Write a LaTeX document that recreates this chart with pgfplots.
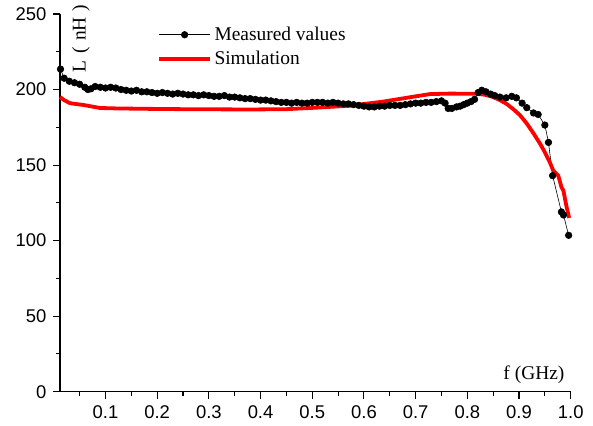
\documentclass[border=0pt]{standalone}
\usepackage{fontspec}
\setmainfont{Liberation Serif}
\newfontfamily\arialfont{Liberation Sans}
\usepackage{pgfplots}
\pgfplotsset{compat=1.18}
\begin{document}
\begin{tikzpicture}
\begin{axis}[
  scale only axis,
  width=510.7bp, height=377.7bp,
  xmin=0.012, xmax=1.0, ymin=0, ymax=250,
  axis x line*=bottom, axis y line*=left,
  axis line style={line width=1.3bp},
  xtick={0.1,0.2,...,1.0},
  xticklabels={0.1,0.2,0.3,0.4,0.5,0.6,0.7,0.8,0.9,1.0},
  minor xtick={0.05,0.15,...,0.95},
  ytick={0,50,...,250},
  minor ytick={25,75,...,225},
  tick align=outside,
  major tick length=7bp, minor tick length=4bp,
  tick style={line width=1.1bp, black},
  /pgf/number format/assume math mode=true,
  ticklabel style={font=\arialfont\fontsize{18.5}{21}\selectfont},
  xticklabel style={yshift=-3.5bp},
  yticklabel style={xshift=-3bp},
  xlabel={f (GHz)},
  xlabel style={at={(axis description cs:0.928,0.044)}, anchor=center, font=\fontsize{19.5}{22}\selectfont},
  ylabel={L\hspace{7bp}(\hspace{6bp}nH\hspace{6bp})},
  ylabel style={at={(axis description cs:0.041,0.935)}, anchor=center, font=\fontsize{19.5}{22}\selectfont},
  legend style={at={(axis description cs:0.19,0.972)}, anchor=north west, draw=none, fill=none,
    font=\fontsize{19.5}{22}\selectfont, row sep=4bp, inner sep=0pt,
    nodes={inner sep=2.5bp}},
  legend cell align=left,
  legend image code/.code={\draw[mark repeat=2,mark phase=2,#1] plot coordinates {(0bp,0bp) (25.5bp,0bp) (51bp,0bp)};},
  clip=false,
]
\addplot[black, line width=0.6bp, mark=*, mark size=3.3bp, mark options={solid, fill=black}] coordinates {
(0.013,213.5)(0.020,207.5)(0.030,205.5)(0.040,204.5)(0.050,203.5)(0.060,201.5)(0.066,200)(0.072,200.5)
(0.080,202)(0.090,201.5)(0.100,201)(0.110,201.5)(0.120,201)(0.130,200)(0.140,199.5)(0.150,199)
(0.160,199.5)(0.170,198.5)(0.180,198.5)(0.190,198)(0.200,197.5)(0.210,198)(0.220,197.5)(0.230,197)
(0.240,197.5)(0.250,197)(0.260,196.5)(0.270,196.5)(0.280,196)(0.290,196.5)(0.300,196)(0.310,195.5)
(0.320,195.5)(0.330,196)(0.340,195)(0.350,195)(0.360,194.5)(0.370,194)(0.380,194)(0.390,193.5)
(0.400,193)(0.410,193)(0.420,192.5)(0.430,192)(0.440,191.5)(0.450,191.5)(0.460,191)(0.470,191.5)
(0.480,191)(0.490,191)(0.500,191.5)(0.510,191.5)(0.520,191.5)(0.530,191)(0.540,191.5)(0.550,191)
(0.560,190.5)(0.570,190.5)(0.580,190)(0.590,189.5)(0.600,189)(0.610,188.5)(0.620,188.5)(0.630,189)
(0.640,189)(0.650,189.5)(0.660,189.5)(0.670,189.5)(0.680,190)(0.690,190.5)(0.700,191)(0.710,191)
(0.720,191.5)(0.730,191.5)(0.740,192)(0.750,192.5)(0.757,191)(0.763,187.5)(0.770,187.5)(0.779,188.5)
(0.786,189)(0.793,190)(0.800,191)(0.807,192)(0.814,193.5)(0.821,198)(0.828,199.5)(0.836,198.5)
(0.845,197)(0.853,196)(0.863,195)(0.875,194.5)(0.886,195.5)(0.895,194.5)(0.906,191)(0.915,188)
(0.928,184.5)(0.937,183.5)(0.950,176.5)(0.957,165)(0.965,143)(0.982,119)(0.986,117)(0.996,103.5)
};
\addlegendentry{Measured values}
\addplot[red, line width=3.8bp, no marks, line join=round] coordinates {
(0.012,195)(0.020,193)(0.031,191)(0.045,190.3)(0.057,189.8)(0.070,189)(0.089,187.8)(0.12,187.5)
(0.186,187.2)(0.25,187)(0.379,186.8)(0.45,187)(0.508,188)(0.573,189.3)(0.637,192)(0.70,195.5)
(0.728,197)(0.766,197.3)(0.818,197.2)(0.835,196.5)(0.850,195)(0.863,193)(0.876,190.5)(0.889,187)
(0.902,183)(0.915,177.5)(0.928,171)(0.941,164)(0.950,158.5)(0.960,151.5)(0.966,146.5)(0.976,143)
(0.982,135.5)(0.986,133)(0.991,124)(0.997,115)
};
\addlegendentry{Simulation}
\end{axis}
\pgfresetboundingbox
\path[use as bounding box] ([xshift=-60bp,yshift=-34.3bp]current axis.south west) rectangle ([xshift=22.3bp,yshift=14bp]current axis.north east);
\end{tikzpicture}
\end{document}
